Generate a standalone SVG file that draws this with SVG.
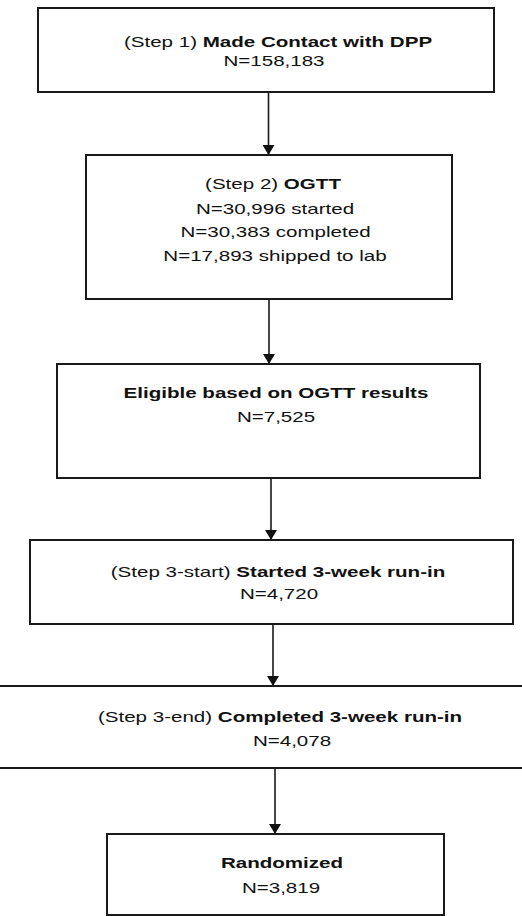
<svg xmlns="http://www.w3.org/2000/svg" width="522" height="916" viewBox="0 0 522 916">
<style>
.box{fill:#fff;stroke:#1a1a1a;stroke-width:2}
.t{font-family:"Liberation Sans",Arial,sans-serif;font-size:15px;fill:#111;text-anchor:middle}
.b{font-weight:bold}
.c{stroke:#1a1a1a;stroke-width:1.6;fill:none;marker-end:url(#ah)}
</style>
<defs>
<marker id="ah" viewBox="0 0 10 12" refX="10" refY="6" markerWidth="10" markerHeight="12" markerUnits="userSpaceOnUse" orient="auto">
<path d="M0,0 L10,6 L0,12 Z" fill="#111"/>
</marker>
</defs>
<rect width="522" height="916" fill="#fff"/>
<g id="connectors">
<line class="c" x1="268.5" y1="92" x2="268.5" y2="155"/>
<line class="c" x1="269" y1="299" x2="269" y2="364"/>
<line class="c" x1="271" y1="478" x2="271" y2="540"/>
<line class="c" x1="273" y1="624" x2="273" y2="686"/>
<line class="c" x1="275" y1="768" x2="275" y2="834"/>
</g>
<g id="step1">
<rect class="box" x="38" y="8" width="456" height="84"/>
<text class="t" transform="translate(278,47) scale(1.37,1)">(Step 1) <tspan class="b">Made Contact with DPP</tspan></text>
<text class="t" transform="translate(274,66) scale(1.37,1)">N=158,183</text>
</g>
<g id="step2">
<rect class="box" x="86" y="155" width="366" height="144"/>
<text class="t" transform="translate(273,189) scale(1.37,1)">(Step 2) <tspan class="b">OGTT</tspan></text>
<text class="t" transform="translate(275,214) scale(1.37,1)">N=30,996 started</text>
<text class="t" transform="translate(275.5,237) scale(1.37,1)">N=30,383 completed</text>
<text class="t" transform="translate(275,261) scale(1.37,1)">N=17,893 shipped to lab</text>
</g>
<g id="eligible">
<rect class="box" x="57" y="364" width="423" height="114"/>
<text class="t b" transform="translate(276,398) scale(1.37,1)">Eligible based on OGTT results</text>
<text class="t" transform="translate(276,422) scale(1.37,1)">N=7,525</text>
</g>
<g id="step3start">
<rect class="box" x="30" y="540" width="483" height="84"/>
<text class="t" transform="translate(278,577) scale(1.37,1)">(Step 3-start) <tspan class="b">Started 3-week run-in</tspan></text>
<text class="t" transform="translate(279,599) scale(1.37,1)">N=4,720</text>
</g>
<g id="step3end">
<rect class="box" x="-5" y="686" width="532" height="82"/>
<text class="t" transform="translate(280,722) scale(1.37,1)">(Step 3-end) <tspan class="b">Completed 3-week run-in</tspan></text>
<text class="t" transform="translate(292,746) scale(1.37,1)">N=4,078</text>
</g>
<g id="randomized">
<rect class="box" x="107" y="834" width="337" height="81"/>
<text class="t b" transform="translate(282,868) scale(1.37,1)">Randomized</text>
<text class="t" transform="translate(281,893) scale(1.37,1)">N=3,819</text>
</g>
</svg>
